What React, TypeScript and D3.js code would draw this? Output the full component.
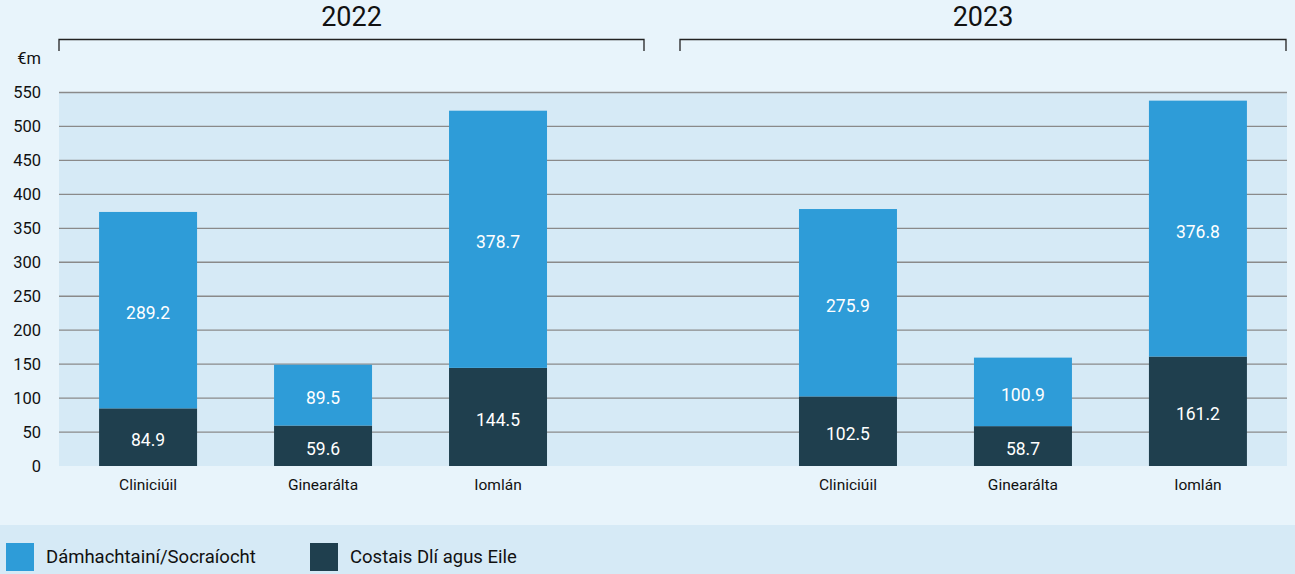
import React from "react";
import * as d3 from "d3";

const categories = ["Cliniciúil", "Ginearálta", "Iomlán"];
const years = ["2022", "2023"];
const settlements2022 = [289.2, 89.5, 378.7];
const legal2022 = [84.9, 59.6, 144.5];
const settlements2023 = [275.9, 100.9, 376.8];
const legal2023 = [102.5, 58.7, 161.2];
const yTicks = [0, 50, 100, 150, 200, 250, 300, 350, 400, 450, 500, 550];
const seriesNames = ["Dámhachtainí/Socraíocht", "Costais Dlí agus Eile"];

const W = 1295;
const H = 574;
const FONT = "Roboto, 'DejaVu Sans', sans-serif";
const C_LIGHT = "#2e9cd8";
const C_DARK = "#1f3f4e";
const BG = "#e8f4fb";
const PLOT_BG = "#d6eaf6";

export default function App() {
  const left = 59;
  const right = 1287;
  const top = 92.5;
  const bottom = 466;

  const slots = ["0", "1", "2", "gap", "3", "4", "5"];
  const x = d3.scaleBand<string>().domain(slots).range([left, right]).paddingInner(0.44).paddingOuter(0.229);
  const y = d3.scaleLinear().domain([0, 550]).range([bottom, top]);

  const rows = [
    ...categories.map((c, i) => ({ slot: String(i), cat: c, s: settlements2022[i], l: legal2022[i] })),
    ...categories.map((c, i) => ({ slot: String(i + 3), cat: c, s: settlements2023[i], l: legal2023[i] })),
  ];

  const stack = d3.stack<any>().keys(["l", "s"])(rows as any);

  const bw = x.bandwidth();
  const groups = [
    { label: years[0], x0: left, x1: 644 },
    { label: years[1], x0: 680, x1: 1286 },
  ];

  return (
    <svg width={W} height={H} style={{ display: "block", position: "absolute", left: 0, top: 0 }} fontFamily={FONT}>
      <rect x={0} y={0} width={W} height={H} fill={BG} />
      <rect x={left} y={top} width={right - left} height={bottom - top} fill={PLOT_BG} />
      {yTicks.filter((t) => t > 0).map((t) => (
        <line key={t} x1={left} x2={right} y1={y(t)} y2={y(t)} stroke="#8a8a8a" strokeWidth={1.3} />
      ))}
      {yTicks.map((t) => (
        <text key={t} x={41} y={y(t)} dy="0.35em" textAnchor="end" fontSize={16.5} fill="#111">
          {t}
        </text>
      ))}
      <text x={41} y={58} dy="0.35em" textAnchor="end" fontSize={16.5} fill="#111">€m</text>

      {stack.map((layer, li) =>
        layer.map((d: any, i: number) => {
          const r = rows[i];
          const x0 = x(r.slot)!;
          const y0 = y(d[1]);
          const y1 = y(d[0]);
          const val = li === 0 ? r.l : r.s;
          return (
            <g key={`${li}-${i}`}>
              <rect x={x0} y={y0} width={bw} height={y1 - y0} fill={li === 0 ? C_DARK : C_LIGHT} />
              <text x={x0 + bw / 2} y={(y0 + y1) / 2 + 3} dy="0.35em" textAnchor="middle" fontSize={17.5} fill="#fff">
                {val.toFixed(1)}
              </text>
            </g>
          );
        })
      )}

      {rows.map((r) => (
        <text key={r.slot} x={x(r.slot)! + bw / 2} y={485} dy="0.35em" textAnchor="middle" fontSize={15.5} fill="#111">
          {r.cat}
        </text>
      ))}

      {groups.map((g) => (
        <g key={g.label}>
          <path d={`M${g.x0},51V39.5H${g.x1}V51`} fill="none" stroke="#222" strokeWidth={1.3} />
          <text x={(g.x0 + g.x1) / 2} y={17} dy="0.35em" textAnchor="middle" fontSize={27} fill="#111">
            {g.label}
          </text>
        </g>
      ))}

      <rect x={0} y={525} width={W} height={H - 525} fill={PLOT_BG} />
      {seriesNames.map((n, i) => {
        const lx = i === 0 ? 6 : 310;
        return (
          <g key={n}>
            <rect x={lx} y={543} width={28} height={28} fill={i === 0 ? C_LIGHT : C_DARK} />
            <text x={lx + 40} y={557} dy="0.35em" fontSize={18.5} fill="#111">
              {n}
            </text>
          </g>
        );
      })}
    </svg>
  );
}
